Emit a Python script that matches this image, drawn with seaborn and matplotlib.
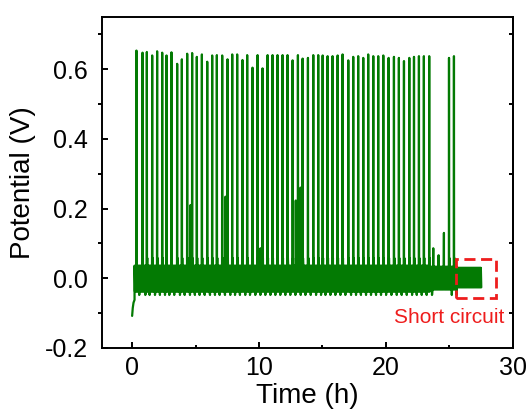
import numpy as np
import pandas as pd
import matplotlib
matplotlib.use("Agg")
import matplotlib.pyplot as plt
from matplotlib.patches import Rectangle
import seaborn as sns

# ---- data ----
big_spike_t = [0.34, 0.82, 1.16, 1.58, 1.97, 2.37, 2.71, 3.10, 3.55, 3.92,
               4.34, 4.73, 5.10, 5.50, 5.92, 6.31, 6.68, 7.10, 7.52, 7.89,
               8.28, 8.70, 9.07, 9.49, 9.89, 10.28, 10.68, 11.07, 11.46, 11.86,
               12.25, 12.65, 13.07, 13.44, 13.86, 14.28, 14.67, 15.02, 15.41, 15.80,
               16.20, 16.59, 17.04, 17.43, 17.82, 18.22, 18.61, 19.01, 19.40, 19.80,
               20.22, 20.64, 21.03, 21.43, 21.85, 22.22, 22.61, 23.00, 23.42, 24.98,
               25.37]
big_spike_v = [0.653, 0.647, 0.649, 0.639, 0.651, 0.647, 0.639, 0.648, 0.615, 0.628,
               0.644, 0.646, 0.635, 0.642, 0.621, 0.639, 0.640, 0.639, 0.628, 0.642,
               0.642, 0.626, 0.640, 0.604, 0.640, 0.602, 0.640, 0.640, 0.640, 0.640,
               0.640, 0.625, 0.640, 0.630, 0.632, 0.640, 0.640, 0.639, 0.637, 0.637,
               0.639, 0.642, 0.625, 0.635, 0.637, 0.632, 0.642, 0.637, 0.637, 0.639,
               0.632, 0.635, 0.632, 0.623, 0.632, 0.635, 0.637, 0.637, 0.637, 0.632,
               0.637]
small_spike_t = [4.60, 7.36, 10.12, 12.90, 13.28, 23.74, 24.16, 24.58]
small_spike_v = [0.210, 0.234, 0.086, 0.223, 0.260, 0.086, 0.066, 0.130]

start_t = [0.00, 0.05, 0.11, 0.19]
start_v = [-0.108, -0.085, -0.070, -0.062]

seg_edges = [0.19, 23.5, 25.6, 27.55]
band_hi = [0.036, 0.033, 0.030]
band_lo = [-0.038, -0.032, -0.026]
tooth_hi = 0.058
tooth_lo = -0.048

x_ticks = [0, 10, 20, 30]
y_ticks = [-0.2, 0.0, 0.2, 0.4, 0.6]
y_ticklabels = ["-0.2", "0.0", "0.2", "0.4", "0.6"]

# ---- build trace ----
pts = list(zip(start_t, start_v))
step = 0.035
for i in range(len(band_hi)):
    tt = np.arange(seg_edges[i], seg_edges[i + 1], step)
    for j, t in enumerate(tt):
        pts.append((t, band_hi[i] if j % 2 == 0 else band_lo[i]))
for ts, hv in zip(big_spike_t, big_spike_v):
    pts += [(ts - 0.012, 0.03), (ts, hv), (ts + 0.012, 0.03),
            (ts + 0.03, tooth_hi), (ts + 0.05, -0.03), (ts + 0.22, tooth_lo)]
for ts, hv in zip(small_spike_t, small_spike_v):
    pts += [(ts - 0.012, 0.03), (ts, hv), (ts + 0.012, 0.03)]
pts.sort(key=lambda p: p[0])
df = pd.DataFrame(pts, columns=["Time", "Potential"])

# ---- plot ----
sns.set_theme(style="ticks")
plt.rcParams["font.family"] = ["Liberation Sans", "DejaVu Sans"]
plt.rcParams["text.color"] = "black"
plt.rcParams["axes.labelcolor"] = "black"

fig = plt.figure(figsize=(5.31, 4.19), dpi=100)
ax = fig.add_axes([0.1915, 0.1695, 0.774, 0.7905])
sns.lineplot(data=df, x="Time", y="Potential", ax=ax, color="#037a03",
             linewidth=1.6, estimator=None, sort=False)

ax.set_xlim(-2.4, 30)
ax.set_ylim(-0.2, 0.75)
ax.set_xticks(x_ticks)
ax.set_xticks([5, 15, 25], minor=True)
ax.set_yticks(y_ticks)
ax.set_yticklabels(y_ticklabels)
ax.set_yticks([-0.1, 0.1, 0.3, 0.5, 0.7], minor=True)

ax.tick_params(axis="both", which="major", labelsize=18, width=1.4, length=4,
               direction="in", colors="black", labelcolor="black")
ax.tick_params(axis="x", which="major", pad=6)
ax.tick_params(axis="y", which="major", pad=10)
ax.tick_params(axis="x", which="minor", width=1.4, length=2, direction="in",
               colors="black")
ax.tick_params(axis="y", which="minor", width=1.4, length=3, direction="out",
               colors="black")
for s in ax.spines.values():
    s.set_visible(True)
    s.set_linewidth(1.4)
    s.set_color("black")

sec = ax.secondary_yaxis("right")
sec.set_yticks([-0.1, 0.1, 0.3, 0.5, 0.7])
sec.set_yticklabels([])
sec.tick_params(direction="in", length=3, width=1.4, colors="black")
sec.spines["right"].set_linewidth(1.4)
sec.spines["right"].set_color("black")

ax.set_xlabel("Time (h)", fontsize=20, labelpad=2, color="black")
ax.set_ylabel("Potential (V)", fontsize=20, labelpad=6, color="black")

ax.add_patch(Rectangle((25.53, -0.058), 3.15, 0.114, fill=False,
                       edgecolor="#ee1d1d", linewidth=2, linestyle=(0, (4, 2)),
                       zorder=5))
ax.text(24.98, -0.114, "Short circuit", color="#ee1d1d", fontsize=15,
        ha="center", va="center")

fig.savefig("out.png", dpi=100)
